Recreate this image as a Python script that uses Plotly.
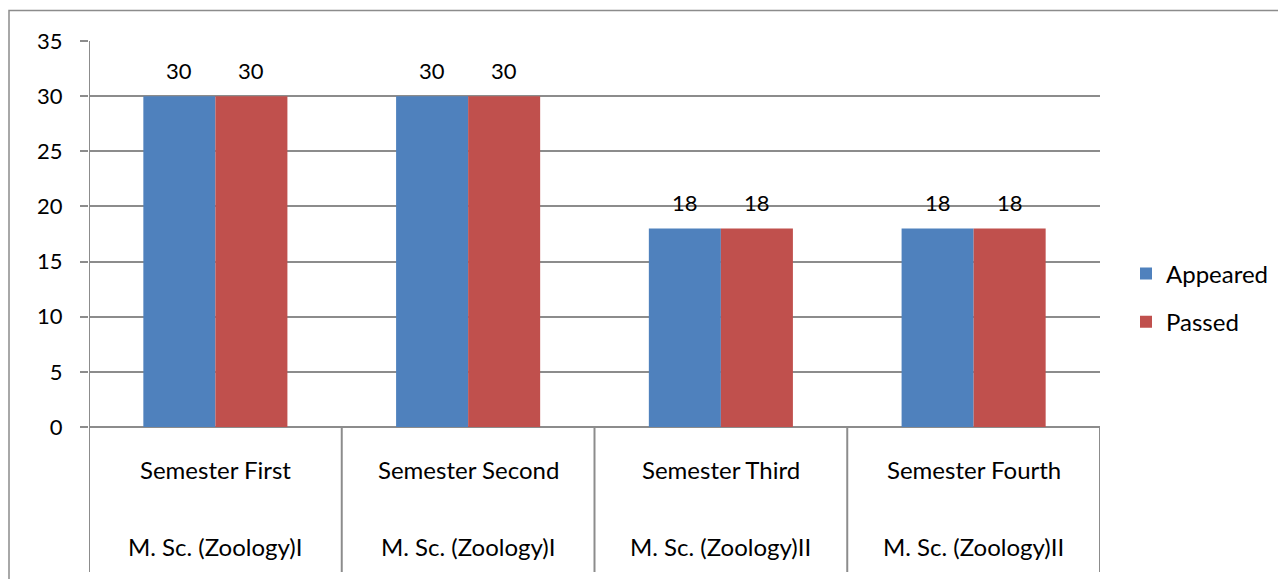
import plotly.graph_objects as go

semesters = ["Semester First", "Semester Second", "Semester Third", "Semester Fourth"]
programmes = ["M. Sc. (Zoology)I", "M. Sc. (Zoology)I", "M. Sc. (Zoology)II", "M. Sc. (Zoology)II"]
appeared = [30, 30, 18, 18]
passed = [30, 30, 18, 18]
y_ticks = [0, 5, 10, 15, 20, 25, 30, 35]

BLUE = "#4F81BD"
RED = "#C0504D"
GRID = "#8C8C8C"
FONT = "Lato, Carlito, Calibri, sans-serif"
WORD_SIZE = 24
NUM_SIZE = 22
BARGAP = 0.43

x = list(range(len(semesters)))

fig = go.Figure()
fig.add_trace(go.Bar(x=x, y=appeared, name="Appeared", marker=dict(color=BLUE, line=dict(width=0)),
                     legendgroup="a"))
fig.add_trace(go.Bar(x=x, y=passed, name="Passed", marker=dict(color=RED, line=dict(width=0)),
                     legendgroup="b"))

# plot area geometry (figure is offset by 8px body margin in the page)
L, T, R, B = 81, 33, 194, 160
W, H = 1286, 579
PW = W - L - R
PH = H - T - B

shapes = []
# outer chart border
shapes.append(dict(type="rect", xref="paper", yref="paper", x0=(1 - L) / PW, x1=1.3, y0=-0.6, y1=(PH + T - 2.5) / PH,
                   line=dict(color="#8C8C8C", width=1.5), layer="below"))
# left axis extension and category dividers
y_bottom = -(564 - (T + PH)) / PH
for b in [-0.5, 0.5, 1.5, 2.5, 3.5]:
    shapes.append(dict(type="line", xref="x", yref="paper", x0=b, x1=b, y0=y_bottom, y1=1 if b == -0.5 else 0,
                       line=dict(color=GRID, width=2)))

annotations = []
row1 = -(461 - (T + PH)) / PH
row2 = -(538 - (T + PH)) / PH
for i, (s, p) in enumerate(zip(semesters, programmes)):
    annotations.append(dict(x=i, y=row1, xref="x", yref="paper", text=s, showarrow=False,
                            font=dict(size=WORD_SIZE, color="#000000", family=FONT), xanchor="center", yanchor="middle"))
    annotations.append(dict(x=i, y=row2, xref="x", yref="paper", text=p, showarrow=False,
                            font=dict(size=WORD_SIZE, color="#000000", family=FONT), xanchor="center", yanchor="middle"))

# data labels above bars
half = (1 - BARGAP) / 4
for i in x:
    for off, vals in ((-half, appeared), (half, passed)):
        annotations.append(dict(x=i + off, y=vals[i], xref="x", yref="y", text=str(vals[i]), showarrow=False,
                                yshift=26, xanchor="center", yanchor="middle",
                                font=dict(size=NUM_SIZE, color="#000000", family=FONT)))

fig.update_layout(
    width=W, height=H,
    margin=dict(l=L, r=R, t=T, b=B),
    paper_bgcolor="white", plot_bgcolor="white",
    barmode="group", bargap=BARGAP, bargroupgap=0,
    font=dict(family=FONT, size=NUM_SIZE, color="#000000"),
    shapes=shapes, annotations=annotations,
    showlegend=True,
    legend=dict(x=(1118 - L) / PW, y=(T + PH - 290) / PH, xanchor="left", yanchor="middle",
                traceorder="grouped", tracegroupgap=14,
                font=dict(size=WORD_SIZE, family=FONT), bgcolor="rgba(0,0,0,0)", itemwidth=30),
)
fig.update_xaxes(range=[-0.5, 3.5], showticklabels=False, showgrid=False, zeroline=False,
                 showline=False, ticks="")
fig.update_yaxes(range=[0, 35], tickvals=y_ticks, showgrid=True, gridcolor=GRID, gridwidth=1.5,
                 zeroline=True, zerolinecolor=GRID, zerolinewidth=2,
                 showline=False, ticks="outside", ticklen=8, tickcolor=GRID, tickwidth=1.5,
                 tickfont=dict(size=NUM_SIZE, family=FONT), ticklabelstandoff=13)

fig.write_html("out.html")
